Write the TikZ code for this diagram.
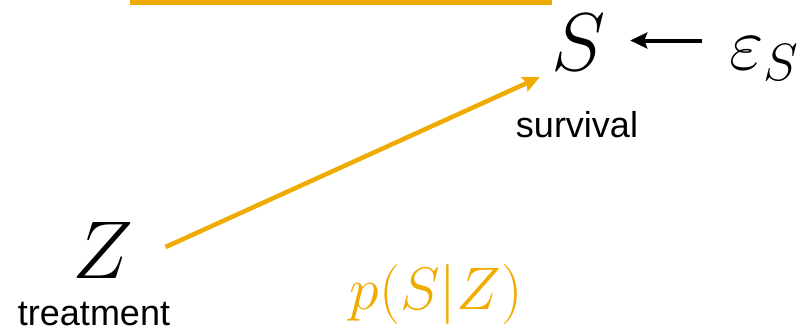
\documentclass[tikz,border=0pt]{standalone}
\usepackage{fix-cm}
\usepackage{fontspec}
\usetikzlibrary{arrows.meta,positioning,calc}
\newfontfamily\labelfont{Liberation Sans}
\definecolor{gold}{RGB}{240,171,0}
\begin{document}
\begin{tikzpicture}[x=1pt, y=-1pt,
    var/.style={inner sep=2pt, font=\fontsize{82}{90}\selectfont},
    caption/.style={inner sep=0pt, font=\fontsize{36}{40}\selectfont\labelfont},
    arrow/.style={-{Stealth[length=17pt,width=16pt,inset=3pt]}, line width=4pt}
]
\useasboundingbox (0,0) rectangle (800,335);
\node[var] (S) at (579,42) {$S$};
\node[var, anchor=base west, font=\fontsize{75}{80}\selectfont] (eps) at (727,69) {$\varepsilon_S$};
\node[caption] (survival) at (577,125) {survival};
\node[var] (Z) at (103,250) {$Z$};
\node[caption] (treatment) at (94,314) {treatment};
\node[var, text=gold, font=\fontsize{60}{66}\selectfont] (pSZ) at (436,294) {$p(S|Z)$};

\coordinate (top left) at (130,2.5);
\coordinate (top right) at (552,2.5);
\draw[gold, line width=4.5pt] (top left) -- (top right);
\draw[arrow, gold, line width=4.5pt] ($(Z.east)+(30,-3)$) -- ($(S.south west)+(-10,5)$);
\draw[arrow] ([xshift=-25pt,yshift=1.5pt]eps.west |- S.east) -- ([xshift=22pt,yshift=1.5pt]S.east);
\end{tikzpicture}
\end{document}
